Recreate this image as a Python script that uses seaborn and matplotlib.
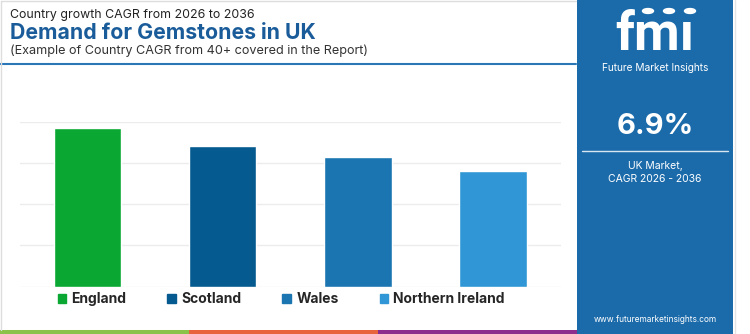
import matplotlib
matplotlib.use("Agg")
import matplotlib.pyplot as plt
import seaborn as sns
import pandas as pd
from matplotlib.patches import Rectangle, Circle
from matplotlib.lines import Line2D

countries = ["England", "Scotland", "Wales", "Northern Ireland"]
cagr = [7.7, 6.8, 6.3, 5.6]
colors = ["#0aa832", "#055a8f", "#1b75b0", "#3196d5"]
title_top = "Country growth CAGR from 2026 to 2036"
title_main = "Demand for Gemstones in UK"
title_sub = "(Example of Country CAGR from 40+ covered in the Report)"
headline = "6.9%"
panel_lines = ["UK Market,", "CAGR 2026 - 2036"]
website = "www.futuremarketinsights.com"

sns.set_theme(style="white")
plt.rcParams["font.family"] = ["Inter", "DejaVu Sans"]

W, H = 750, 334
fig = plt.figure(figsize=(7.5, 3.34), dpi=100)

def fx(x):
    return x / W

def fy(y):
    return 1 - y / H

# axes
ax = fig.add_axes([fx(20), fy(286.7), (560.5 - 20) / W, (286.7 - 121.7) / H])
df = pd.DataFrame({"country": countries, "cagr": cagr})
sns.barplot(data=df, x="country", y="cagr", hue="country", palette=colors,
            width=0.5, legend=False, ax=ax, saturation=1)
ax.set_ylim(0, 8)
ax.set_xlim(-0.5, 3.5)
ax.set_yticks([0, 2, 4, 6, 8])
ax.yaxis.grid(True, color="#ececec", lw=1)
ax.set_axisbelow(True)
ax.set_xticks([])
ax.set_yticklabels([])
ax.tick_params(left=False, bottom=False)
ax.set_xlabel("")
ax.set_ylabel("")
for s in ax.spines.values():
    s.set_visible(False)

handles = [Rectangle((0, 0), 1, 1, color=c) for c in colors]
fig.legend(handles, countries, loc="center left", bbox_to_anchor=(fx(45), fy(299)),
           ncol=4, frameon=False, handlelength=0.62, handleheight=0.62,
           handletextpad=0.38, columnspacing=2.95,
           prop={"family": ["Inter", "DejaVu Sans"], "weight": "bold", "size": 10})

# header texts
fig.text(fx(10), fy(15), title_top, fontsize=8.9, color="#222222", va="center", ha="left")
fig.text(fx(10), fy(33), title_main, fontsize=15.3, color="#1a5c9a", fontweight="bold",
         va="center", ha="left")
fig.text(fx(10), fy(51), title_sub, fontsize=9.1, color="#333333", va="center", ha="left")
fig.add_artist(Line2D([fx(0), fx(576)], [fy(63.5), fy(63.5)], color="#2a77b8", lw=1.5))

# frame of left area
fig.add_artist(Line2D([fx(1), fx(1)], [fy(1), fy(330)], color="#dddddd", lw=1))
fig.add_artist(Line2D([fx(1), fx(576)], [fy(1), fy(1)], color="#dddddd", lw=1))

# bottom strip
for x0, x1, c in [(0, 189, "#8bc34a"), (189, 378, "#e8643c"), (378, 577, "#8e2c8e")]:
    fig.add_artist(Rectangle((fx(x0), 0), (x1 - x0) / W, 4 / H, color=c, lw=0))

# right panel
panel_c = "#1b6bab"
fig.add_artist(Rectangle((fx(577), 0), (733 - 577) / W, 1, color=panel_c, lw=0))
fig.add_artist(Line2D([fx(735), fx(735)], [0, 1], color="#e4e4e4", lw=1))

fig.text(fx(655), fy(50.5), "fm\u0131", fontsize=38, color="white", fontweight="bold",
         family=["Roboto", "DejaVu Sans"], ha="center", va="baseline")
for yy in range(16, 51, 3):
    fig.add_artist(Line2D([fx(600), fx(712)], [fy(yy), fy(yy)], color=panel_c, lw=0.7))
for cx in [648, 669, 690]:
    fig.add_artist(Circle((fx(cx), fy(11)), 5.5 / W, color="white", transform=fig.transFigure))
fig.text(fx(655), fy(68), "Future Market Insights", fontsize=7.3, color="white",
         ha="center", va="center")

fig.text(fx(655), fy(127), headline, fontsize=21, color="white", fontweight="bold",
         ha="center", va="center")
fig.add_artist(Line2D([fx(582), fx(728)], [fy(150.5), fy(150.5)], color="#d8e6f2", lw=1))
fig.text(fx(655), fy(166), panel_lines[0], fontsize=7.5, color="white", ha="center", va="center")
fig.text(fx(655), fy(179), panel_lines[1], fontsize=7.5, color="white", ha="center", va="center")
fig.text(fx(655), fy(319), website, fontsize=6, color="white", ha="center", va="center")

fig.savefig("out.png", dpi=100)
